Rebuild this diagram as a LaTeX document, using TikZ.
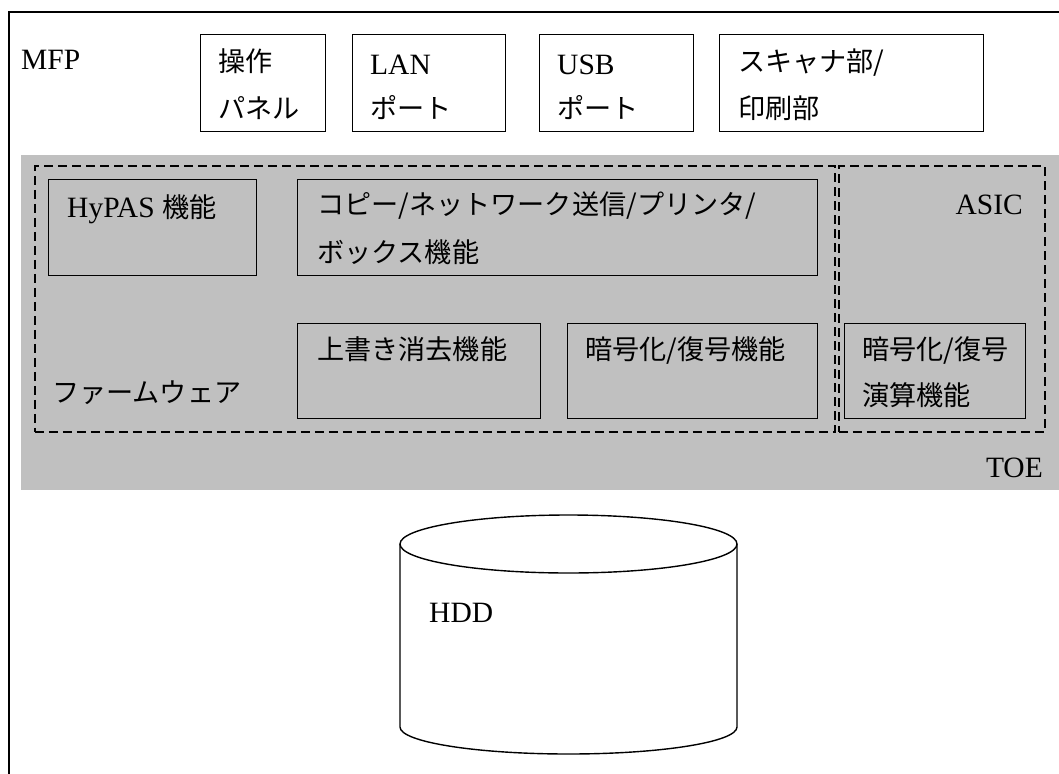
\documentclass[tikz,border=0pt]{standalone}
\usepackage{fontspec}
\setmainfont{Liberation Serif}
\newfontfamily\jp[Scale=0.92]{Noto Sans CJK JP}
\definecolor{toegray}{RGB}{192,192,192}
\tikzset{
  part/.style={draw,line width=1.4pt,anchor=north west,inner sep=0pt},
  zone/.style={draw,line width=1.5pt,dash pattern=on 9pt off 5pt,anchor=north west,inner sep=0pt},
  txt/.style={anchor=base west,inner sep=0pt},
  rtxt/.style={anchor=base east,inner sep=0pt}
}
\begin{document}
\begin{tikzpicture}[x=1pt,y=-1pt,font=\fontsize{29.5}{34}\selectfont]
\useasboundingbox (0,0) rectangle (1059,773);
\clip (0,0) rectangle (1059,773);
\draw[line width=1.8pt] (9,12) rectangle (1090,800);
\fill[toegray] (21,155) rectangle (1090,490);

\node[name=MFP,txt] at (21,70) {MFP};

\node[name=panel,part,minimum width=125,minimum height=97] at (200,34) {};
\node[name=lan,part,minimum width=153,minimum height=97] at (352,34) {};
\node[name=usb,part,minimum width=154,minimum height=97] at (539,34) {};
\node[name=scan,part,minimum width=264,minimum height=97] at (719,34) {};
\node[name=panelA,txt] at (218,72) {\jp 操作};
\node[name=panelB,txt] at (218,118) {\jp パネル};
\node[name=lanA,txt] at (370,75) {LAN};
\node[name=lanB,txt] at (370,118) {\jp ポート};
\node[name=usbA,txt] at (557,75) {USB};
\node[name=usbB,txt] at (557,118) {\jp ポート};
\node[name=scanA,txt] at (738,72) {\jp スキャナ部/};
\node[name=scanB,txt] at (738,118) {\jp 印刷部};

\node[name=fw,zone,minimum width=800,minimum height=266] at (34,165) {};
\node[name=asic,zone,minimum width=206,minimum height=266] at (838,165) {};

\node[name=hypas,part,minimum width=208,minimum height=96] at (48,179) {};
\node[name=copy,part,minimum width=520,minimum height=96] at (297,179) {};
\node[name=erase,part,minimum width=243,minimum height=95] at (297,323) {};
\node[name=crypt,part,minimum width=250,minimum height=95] at (567,323) {};
\node[name=engine,part,minimum width=181,minimum height=95] at (844,323) {};

\node[name=hypasT,txt] at (67,217) {HyPAS {\jp 機能}};
\node[name=copyA,txt] at (317,214) {\jp コピー/ネットワーク送信/プリンタ/};
\node[name=copyB,txt] at (317,262) {\jp ボックス機能};
\node[name=eraseT,txt] at (317,359) {\jp 上書き消去機能};
\node[name=cryptT,txt] at (585,359) {\jp 暗号化/復号機能};
\node[name=engineA,txt] at (862,359) {\jp 暗号化/復号};
\node[name=engineB,txt] at (862,405) {\jp 演算機能};
\node[name=fwT,txt] at (52,402) {\jp ファームウェア};
\node[name=asicT,rtxt] at (1023,214) {ASIC};
\node[name=TOE,rtxt] at (1043,477) {TOE};

\draw[line width=1.4pt,fill=white] (400,727) -- (400,544) arc[start angle=180,end angle=360,x radius=168.5,y radius=29] -- (737,727) arc[start angle=0,end angle=180,x radius=168.5,y radius=27] -- cycle;
\draw[line width=1.4pt] (400,544) arc[start angle=180,end angle=0,x radius=168.5,y radius=29];
\node[name=HDD,txt] at (429,622) {HDD};
\end{tikzpicture}
\end{document}
